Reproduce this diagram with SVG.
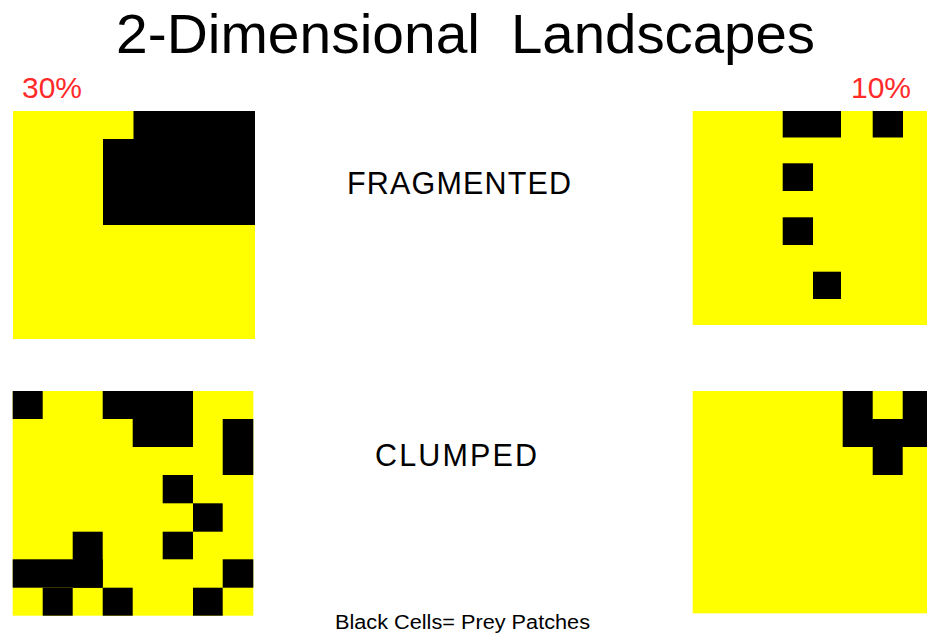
<svg xmlns="http://www.w3.org/2000/svg" width="927" height="635" viewBox="0 0 927 635">
<style>
.bg{fill:#FFFF00}
.c{fill:#000}
.t{font-family:"Liberation Sans",Arial,sans-serif;fill:#000}
.pct{font-family:"Liberation Sans",Arial,sans-serif;fill:#FF2A2A;font-size:30px}
</style>
<rect width="927" height="635" fill="#fff"/>
<g id="title">
<text class="t" x="116" y="53" font-size="56" textLength="364" lengthAdjust="spacingAndGlyphs">2-Dimensional</text>
<text class="t" x="511" y="53" font-size="56" textLength="304" lengthAdjust="spacingAndGlyphs">Landscapes</text>
</g>
<g id="label-30"><text class="pct" x="22" y="98">30%</text></g>
<g id="label-10"><text class="pct" x="911" y="98" text-anchor="end">10%</text></g>
<g id="label-fragmented"><text class="t" x="347" y="194" font-size="30.5" textLength="224" lengthAdjust="spacing">FRAGMENTED</text></g>
<g id="label-clumped"><text class="t" x="375" y="466" font-size="30.5" textLength="162" lengthAdjust="spacing">CLUMPED</text></g>
<g id="caption"><text class="t" x="335" y="629" font-size="20" textLength="255" lengthAdjust="spacingAndGlyphs">Black Cells= Prey Patches</text></g>

<g id="grid-frag-30">
<rect class="bg" x="13" y="111" width="242" height="228"/>
<rect class="c" x="133.5" y="111" width="121.5" height="28.5"/>
<rect class="c" x="103" y="139" width="152" height="86"/>
</g>

<g id="grid-frag-10">
<rect class="bg" x="692.7" y="111" width="234.3" height="214"/>
<rect class="c" x="782.7" y="111" width="58.3" height="26.5"/>
<rect class="c" x="872.7" y="111" width="30.3" height="26.5"/>
<rect class="c" x="782.7" y="163.3" width="30.3" height="27.7"/>
<rect class="c" x="782.7" y="217.3" width="30.3" height="27.7"/>
<rect class="c" x="813" y="271.7" width="28" height="27.3"/>
</g>

<g id="grid-clump-30">
<rect class="bg" x="12.7" y="391" width="240.6" height="224.7"/>
<rect class="c" x="12.7" y="391" width="30" height="28"/>
<rect class="c" x="102.7" y="391" width="90.3" height="28"/>
<rect class="c" x="132.7" y="419" width="60.3" height="28"/>
<rect class="c" x="222.7" y="419" width="30.6" height="56"/>
<rect class="c" x="162.7" y="475" width="30.3" height="28.3"/>
<rect class="c" x="193" y="503.3" width="29.7" height="28.4"/>
<rect class="c" x="72.7" y="531.7" width="30" height="56"/>
<rect class="c" x="162.7" y="531.7" width="30.3" height="27.6"/>
<rect class="c" x="12.7" y="559.3" width="90" height="28.4"/>
<rect class="c" x="222.7" y="559.3" width="30.6" height="28.4"/>
<rect class="c" x="42.7" y="587.7" width="30" height="28"/>
<rect class="c" x="102.7" y="587.7" width="30" height="28"/>
<rect class="c" x="193" y="587.7" width="29.7" height="28"/>
</g>

<g id="grid-clump-10">
<rect class="bg" x="692.7" y="391" width="234.3" height="222.3"/>
<rect class="c" x="842.7" y="391" width="30" height="28"/>
<rect class="c" x="902.7" y="391" width="24.3" height="28"/>
<rect class="c" x="842.7" y="419" width="84.3" height="28"/>
<rect class="c" x="872.7" y="447" width="30" height="28"/>
</g>
</svg>
